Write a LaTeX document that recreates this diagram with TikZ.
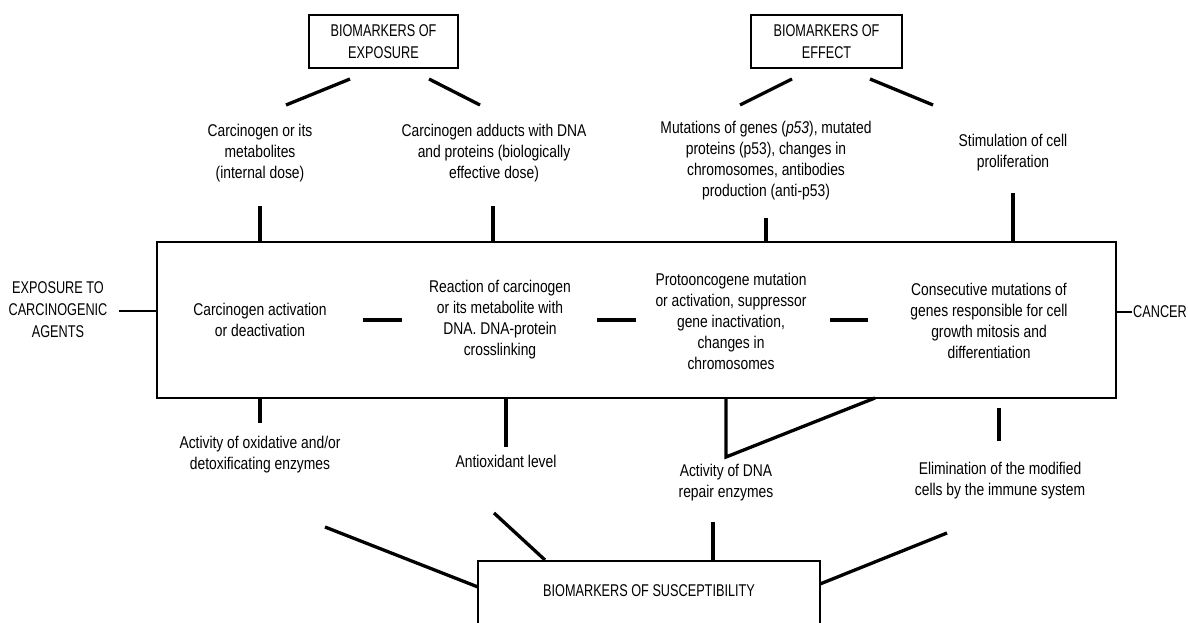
\documentclass[tikz,border=0pt]{standalone}
\usepackage{fontspec}
\setmainfont[FakeStretch=0.815]{Liberation Sans}
\newfontfamily\capsfam[FakeStretch=0.747]{Liberation Sans}
\begin{document}
\begin{tikzpicture}[x=1pt,y=-1pt,
  txt/.style={align=center,inner sep=0pt,font=\fontsize{17}{21}\selectfont},
  captxt/.style={align=center,inner sep=0pt,font=\capsfam\fontsize{17}{22}\selectfont},
  hbox/.style={draw,line width=1.3pt,inner sep=0pt},
  conn/.style={line width=3.3pt},
  thin/.style={line width=1.5pt}]
\useasboundingbox (0,0) rectangle (1188,623);
% top boxes
\node[hbox,minimum width=149pt,minimum height=53pt] (expbox) at (383.5,41.5) {};
\node[captxt] (expt) at (383.5,41.5) {BIOMARKERS OF\\EXPOSURE};
\node[hbox,minimum width=151pt,minimum height=53pt] (effbox) at (826.5,41.5) {};
\node[captxt] (efft) at (826.5,41.5) {BIOMARKERS OF\\EFFECT};
% diagonal connectors
\coordinate (e1a) at (350,79); \coordinate (e1b) at (286,105);
\coordinate (e2a) at (429,79); \coordinate (e2b) at (480,105);
\coordinate (f1a) at (792,79); \coordinate (f1b) at (740,105);
\coordinate (f2a) at (870,79); \coordinate (f2b) at (933,105);
\draw[conn] (e1a) -- (e1b);
\draw[conn] (e2a) -- (e2b);
\draw[conn] (f1a) -- (f1b);
\draw[conn] (f2a) -- (f2b);
% top texts
\node[txt] (t1) at (260,153) {Carcinogen or its\\metabolites\\(internal dose)};
\node[txt] (t2) at (494,153) {Carcinogen adducts with DNA\\and proteins (biologically\\effective dose)};
\node[txt] (t3) at (766,161) {Mutations of genes (\textit{p53}), mutated\\proteins (p53), changes in\\chromosomes, antibodies\\production (anti-p53)};
\node[txt] (t4) at (1013,153) {Stimulation of cell\\proliferation};
% main box
\node[draw,line width=1.4pt,minimum width=959pt,minimum height=156pt,inner sep=0pt] (main) at (636.5,320) {};
% vertical connectors top
\coordinate (v1) at (260,206); \coordinate (v2) at (493,206);
\coordinate (v3) at (766,218); \coordinate (v4) at (1013,193);
\draw[conn] (v1) -- (v1 |- main.north);
\draw[conn] (v2) -- (v2 |- main.north);
\draw[conn] (v3) -- (v3 |- main.north);
\draw[conn] (v4) -- (v4 |- main.north);
% side labels
\node[captxt] (expo) at (58,310) {EXPOSURE TO\\CARCINOGENIC\\AGENTS};
\coordinate (expoe) at (119,311);
\draw[thin] (expoe) -- (expoe -| main.west);
\node[captxt,anchor=west] (cancer) at (1133,312) {CANCER};
\coordinate (cw) at (1132,312);
\draw[thin] (cw) -- (cw -| main.east);
% inner texts
\node[txt] (i1) at (260,320) {Carcinogen activation\\or deactivation};
\node[txt] (i2) at (500,320) {Reaction of carcinogen\\or its metabolite with\\DNA. DNA-protein\\crosslinking};
\node[txt] (i3) at (731,321) {Protooncogene mutation\\or activation, suppressor\\gene inactivation,\\changes in\\chromosomes};
\node[txt] (i4) at (989,321) {Consecutive mutations of\\genes responsible for cell\\growth mitosis and\\differentiation};
\coordinate (d1a) at (363,320); \coordinate (d1b) at (402,320);
\coordinate (d2a) at (597,320); \coordinate (d2b) at (636,320);
\coordinate (d3a) at (830,320); \coordinate (d3b) at (868,320);
\draw[conn] (d1a) -- (d1b);
\draw[conn] (d2a) -- (d2b);
\draw[conn] (d3a) -- (d3b);
% bottom
\coordinate (b1) at (260,423);
\draw[conn] (b1 |- main.south) -- (b1);
\node[txt] (o1) at (260,455) {Activity of oxidative and/or\\detoxificating enzymes};
\coordinate (b2) at (506,447);
\draw[conn] (b2 |- main.south) -- (b2);
\node[txt] (o2) at (506,461) {Antioxidant level};
\coordinate (b3) at (726,457); \coordinate (b3r) at (875,398);
\draw[conn,line join=miter] (b3 |- main.south) -- (b3) -- (b3r);
\node[txt] (o3) at (726,483) {Activity of DNA\\repair enzymes};
\coordinate (b4a) at (999,408); \coordinate (b4b) at (999,441);
\draw[conn] (b4a) -- (b4b);
\node[txt] (o4) at (1000,481) {Elimination of the modified\\cells by the immune system};
% susceptibility box
\node[draw,line width=2pt,minimum width=342pt,minimum height=82pt,inner sep=0pt,anchor=north] (susc) at (649,560) {};
\node[captxt] (susct) at (649,591) {BIOMARKERS OF SUSCEPTIBILITY};
\coordinate (s1) at (325,527); \coordinate (s1e) at (478,587);
\coordinate (s2) at (494,513); \coordinate (s2e) at (545,560);
\coordinate (s3) at (713,522);
\coordinate (s4) at (947,533); \coordinate (s4e) at (820,584);
\draw[conn] (s1) -- (s1e);
\draw[conn] (s2) -- (s2e);
\draw[conn] (s3) -- (s3 |- susc.north);
\draw[conn] (s4) -- (s4e);
\end{tikzpicture}
\end{document}
